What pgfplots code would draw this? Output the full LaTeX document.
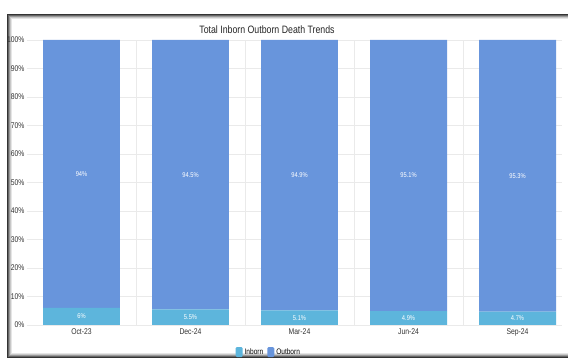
\documentclass[border=0pt]{standalone}
\usepackage{pgfplots}
\usepackage{pgfplotstable}
\pgfplotsset{compat=1.18}
\usepackage{fontspec}
\setmainfont{Liberation Sans}[FakeStretch=0.82]
\definecolor{outb}{HTML}{6895DC}
\definecolor{inb}{HTML}{5DB5DC}
\definecolor{gridc}{HTML}{EAEAEA}
\pgfplotstableread{
x y label
0 6 6\%
1 5.5 5.5\%
2 5.1 5.1\%
3 4.9 4.9\%
4 4.7 4.7\%
}\inborn
\pgfplotstableread{
x y label
0 94 94\%
1 94.5 94.5\%
2 94.9 94.9\%
3 95.1 95.1\%
4 95.3 95.3\%
}\outborn
\begin{document}
\begin{tikzpicture}[x=1pt,y=1pt]
\useasboundingbox (0,0) rectangle (568,361);
\fill[white] (0,0) rectangle (568,361);
\foreach \i/\c in {0/80,1/60,2/40,3/22,4/10} {\draw[black!\c, line width=1pt] (7.5+\i,3.5+\i) rectangle (600,346.5-\i);}
\node[font=\fontsize{10.7}{12}\selectfont, text=black!85] at (267,331) {Total Inborn Outborn Death Trends};
\begin{axis}[at={(27pt,36pt)}, anchor=south west, scale only axis, width=535pt, height=285pt,
 ybar stacked, bar width=0.706, xmin=-0.5, xmax=4.408, ymin=0, ymax=100,
 xtick={0,...,4}, xticklabels={Oct-23,Dec-24,Mar-24,Jun-24,Sep-24},
 minor xtick={0.5,1.5,2.5,3.5}, xminorgrids, minor grid style={gridc, line width=0.8pt},
 ytick={0,10,...,100}, ymajorgrids, major grid style={gridc, line width=0.8pt},
 yticklabel={\pgfmathprintnumber{\tick}\%},
 /pgf/number format/assume math mode=true,
 axis line style={draw=none}, major tick length=0pt, minor tick length=0pt,
 tick label style={font=\fontsize{8.3}{9}\selectfont, text=black!80},
 yticklabel style={xshift=1pt},
 nodes near coords, point meta=explicit symbolic,
 every node near coord/.append style={anchor=center, font=\fontsize{7}{8}\selectfont, text=white},
 legend style={draw=none, fill=none, legend columns=2, at={(rel axis cs:0.452,-0.095)}, anchor=center, font=\fontsize{8}{9}\selectfont, /tikz/every even column/.append style={column sep=2pt}},
 legend image code/.code={\fill[#1, rounded corners=1.2pt] (0pt,-5pt) rectangle (7pt,5pt);},
]
\addplot[fill=inb, draw=none] table[x=x, y=y, meta=label] {\inborn};
\addplot[fill=outb, draw=none] table[x=x, y=y, meta=label] {\outborn};
\legend{Inborn,Outborn}
\end{axis}
\end{tikzpicture}
\end{document}
